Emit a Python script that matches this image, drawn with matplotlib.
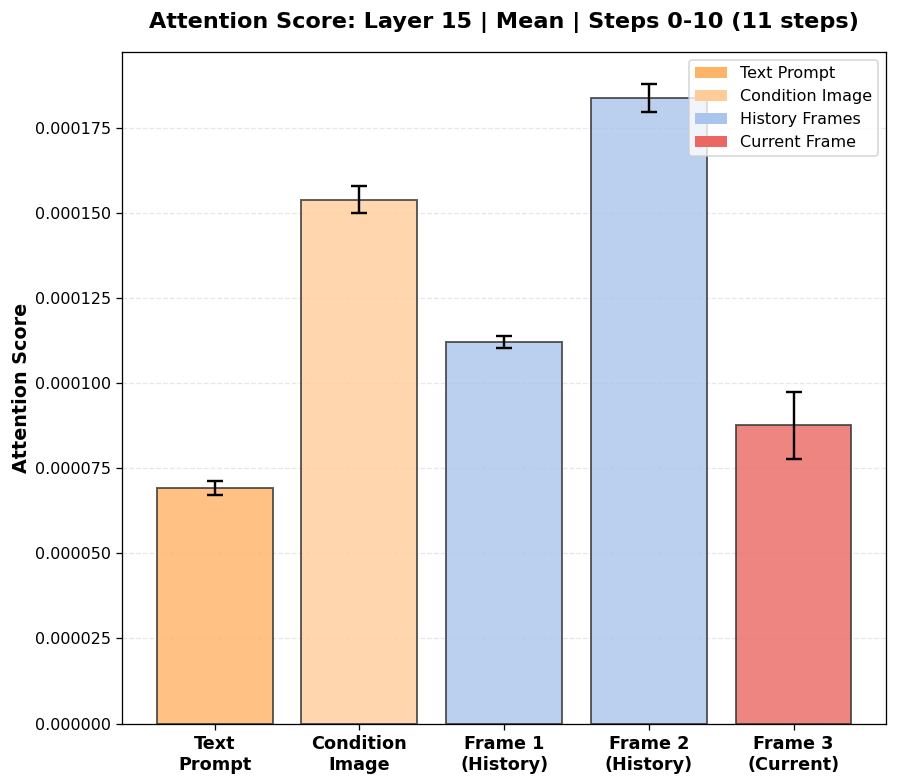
import matplotlib
matplotlib.use("Agg")
import matplotlib.pyplot as plt
from matplotlib.patches import Patch

categories = ["Text\nPrompt", "Condition\nImage", "Frame 1\n(History)", "Frame 2\n(History)", "Frame 3\n(Current)"]
means = [6.93e-5, 1.539e-4, 1.122e-4, 1.838e-4, 8.76e-5]
errors = [2.05e-6, 3.96e-6, 1.76e-6, 4.1e-6, 9.8e-6]
bar_colors = ["#FFB366", "#FFCC99", "#AAC5EC", "#EC6761"]
color_index = [0, 1, 2, 2, 3]
legend_labels = ["Text Prompt", "Condition Image", "History Frames", "Current Frame"]

DPI = 115
fig, ax = plt.subplots(figsize=(897 / DPI, 784 / DPI), dpi=DPI)
fig.subplots_adjust(left=0.136, right=0.988, top=0.934, bottom=0.077)

x = list(range(len(categories)))
ax.bar(x, means, width=0.8, yerr=errors, capsize=5,
       color=[bar_colors[i] for i in color_index], alpha=0.8,
       edgecolor="#333333", linewidth=1.2,
       error_kw=dict(ecolor="black", elinewidth=1.5, capthick=1.5))

ax.set_xticks(x)
ax.set_xticklabels(categories, fontsize=11, fontweight="bold")
ax.tick_params(axis="y", labelsize=10)
ax.set_ylim(0, 1.973e-4)
ax.yaxis.grid(True, linestyle="--", alpha=0.3)
ax.set_axisbelow(True)
ax.set_ylabel("Attention Score", fontsize=12, fontweight="bold", labelpad=2)
ax.set_title("Attention Score: Layer 15 | Mean | Steps 0-10 (11 steps)", fontsize=14, fontweight="bold", pad=15)

handles = [Patch(facecolor=c, label=l) for c, l in zip(bar_colors, legend_labels)]
ax.legend(handles=handles, loc="upper right", fontsize=10)

fig.savefig("out.png", dpi=DPI)
